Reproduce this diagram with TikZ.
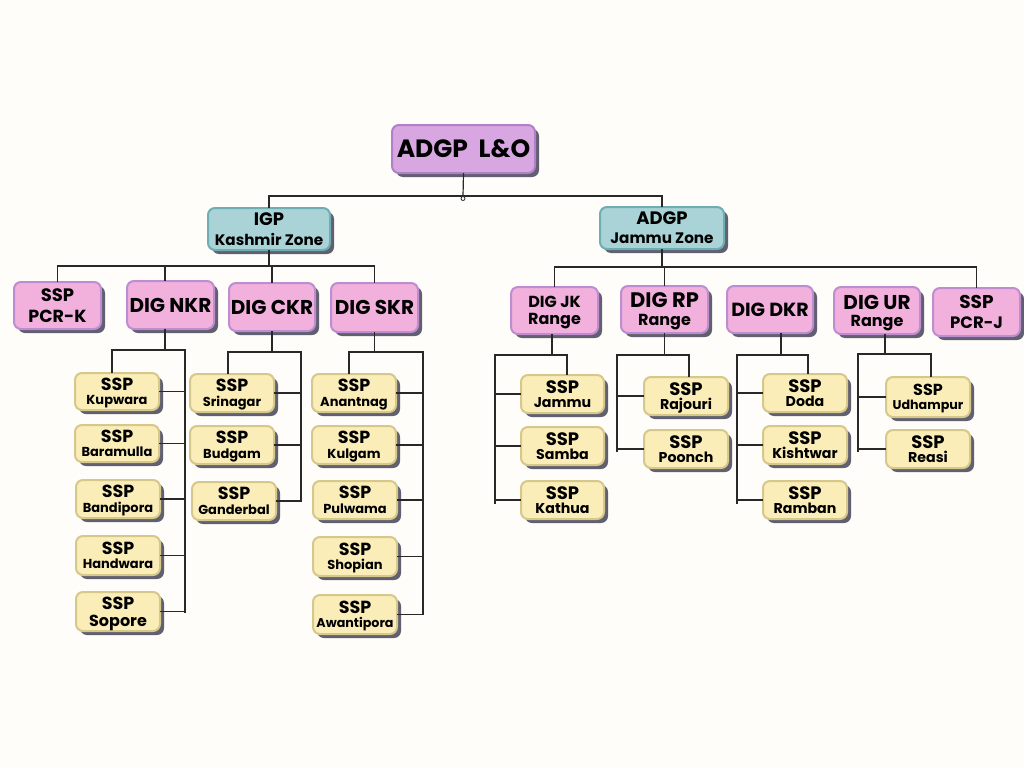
\documentclass[tikz,border=0pt]{standalone}
\usepackage{fontspec}
\setmainfont{Poppins}
\usetikzlibrary{shadows}
\definecolor{bg}{RGB}{254,253,249}
\definecolor{topfill}{RGB}{216,167,226}
\definecolor{topline}{RGB}{178,128,200}
\definecolor{tealfill}{RGB}{169,211,214}
\definecolor{tealline}{RGB}{110,174,178}
\definecolor{pinkfill}{RGB}{242,177,221}
\definecolor{pinkline}{RGB}{190,140,208}
\definecolor{yelfill}{RGB}{250,237,184}
\definecolor{yelline}{RGB}{214,200,138}
\definecolor{shad}{RGB}{96,96,112}
\definecolor{wire}{RGB}{40,40,40}
\tikzset{
  basebox/.style={rounded corners=7pt, line width=2pt, inner sep=0pt, outer sep=0pt,
     font=\bfseries, text=black,
     drop shadow={shadow xshift=4pt, shadow yshift=-4pt, fill=shad, opacity=1}},
  topbox/.style={basebox, fill=topfill, draw=topline},
  zonebox/.style={basebox, fill=tealfill, draw=tealline},
  digbox/.style={basebox, fill=pinkfill, draw=pinkline},
  sspbox/.style={basebox, fill=yelfill, draw=yelline},
  wires/.style={draw=wire, line width=1.2pt}
}
\newcommand\mkbox[7]{\node[#6, minimum width={(#4-#2)*1pt}, minimum height={(#5-#3)*1pt}] (#1) at ({(#2+#4)/2},{(#3+#5)/2}) {#7};}
\newcommand\fs[1]{\fontsize{#1}{#1}\selectfont}
% two-line text: size1, line1, size2, line2, baseline skip
\newcommand\two[5]{\vbox{\baselineskip=#5pt\lineskiplimit=-20pt\halign{\hfil##\hfil\cr\fs{#1}#2\cr\fs{#3}#4\cr}\vskip-\prevdepth}}
\newcommand\one[2]{\vbox{\hbox{\fs{#1}#2}\vskip-\prevdepth}}
\newcommand\ssp[2]{\two{17.5}{SSP}{13}{#2}{14.5}}
\newcommand\sspr[2]{\two{18}{SSP}{#1}{#2}{14.5}}
\begin{document}
\begin{tikzpicture}[x=1pt,y=-1pt]
\fill[bg] (0,0) rectangle (1024,768);
\useasboundingbox (0,0) rectangle (1024,768);

% top levels
\mkbox{top}{392}{125}{535}{173}{topbox}{\one{25}{ADGP~~L\&O}}
\mkbox{igp}{208}{208}{330}{250}{zonebox}{\two{18}{IGP}{15.2}{Kashmir Zone}{20}}
\mkbox{jz}{600}{207}{724}{249}{zonebox}{\two{18}{ADGP}{15.2}{Jammu Zone}{19}}

% Kashmir row
\mkbox{pcrk}{14}{282}{101}{329}{digbox}{\two{18}{SSP}{17.5}{PCR-K}{21}}
\mkbox{nkr}{127}{281}{214}{329}{digbox}{\one{20}{DIG NKR}}
\mkbox{ckr}{229}{283}{315}{331}{digbox}{\one{20}{DIG CKR}}
\mkbox{skr}{331}{283}{418}{332}{digbox}{\one{20}{DIG SKR}}

% Jammu row
\mkbox{jk}{511}{287}{598}{334}{digbox}{\two{16}{DIG JK}{16}{Range}{17}}
\mkbox{rp}{621}{286}{708}{333}{digbox}{\two{21}{DIG RP}{16}{Range}{18}}
\mkbox{dkr}{727}{286}{813}{333}{digbox}{\one{19}{DIG DKR}}
\mkbox{ur}{834}{287}{920}{334}{digbox}{\two{20}{DIG UR}{16}{Range}{17}}
\mkbox{pcrj}{933}{288}{1020}{336}{digbox}{\two{18.5}{SSP}{16.5}{PCR-J}{20}}

% NKR districts
\mkbox{kup}{75}{373}{159}{410}{sspbox}{\ssp{13}{Kupwara}}
\mkbox{bar}{75}{425}{159}{462}{sspbox}{\ssp{13}{Baramulla}}
\mkbox{ban}{76}{480}{160}{518}{sspbox}{\ssp{13}{Bandipora}}
\mkbox{han}{76}{536}{160}{575}{sspbox}{\ssp{13}{Handwara}}
\mkbox{sop}{76}{592}{160}{631}{sspbox}{\two{17.5}{SSP}{16}{Sopore}{17}}
% CKR districts
\mkbox{sri}{190}{374}{274}{412}{sspbox}{\ssp{13}{Srinagar}}
\mkbox{bud}{190}{426}{274}{464}{sspbox}{\ssp{13}{Budgam}}
\mkbox{gan}{192}{482}{276}{520}{sspbox}{\ssp{13}{Ganderbal}}
% SKR districts
\mkbox{ana}{312}{374}{396}{412}{sspbox}{\ssp{13}{Anantnag}}
\mkbox{kul}{312}{426}{396}{464}{sspbox}{\ssp{13}{Kulgam}}
\mkbox{pul}{313}{481}{397}{519}{sspbox}{\ssp{13}{Pulwama}}
\mkbox{sho}{313}{537}{397}{576}{sspbox}{\ssp{13}{Shopian}}
\mkbox{awa}{313}{595}{397}{634}{sspbox}{\two{17.5}{SSP}{12.7}{Awantipora}{14}}
% JK districts
\mkbox{jam}{521}{375}{604}{413}{sspbox}{\sspr{14.2}{Jammu}}
\mkbox{sam}{521}{427}{604}{465}{sspbox}{\sspr{14.2}{Samba}}
\mkbox{kat}{521}{481}{604}{519}{sspbox}{\sspr{14.2}{Kathua}}
% RP districts
\mkbox{raj}{644}{377}{728}{415}{sspbox}{\sspr{14.2}{Rajouri}}
\mkbox{poo}{644}{430}{728}{468}{sspbox}{\sspr{14.2}{Poonch}}
% DKR districts
\mkbox{dod}{763}{374}{847}{412}{sspbox}{\sspr{14.2}{Doda}}
\mkbox{kis}{763}{426}{847}{464}{sspbox}{\sspr{14.2}{Kishtwar}}
\mkbox{ram}{763}{481}{847}{519}{sspbox}{\sspr{14.2}{Ramban}}
% UR districts
\mkbox{udh}{886}{377}{970}{417}{sspbox}{\two{16}{SSP}{12.7}{Udhampur}{14}}
\mkbox{rea}{886}{430}{970}{468}{sspbox}{\sspr{14.2}{Reasi}}

% ---- connectors ----
\begin{scope}[wires]
% top
\coordinate (t0) at (463,196);
\draw (top.south) -- (t0);
\draw (igp.north) -- (igp.north |- t0) -- (jz.north |- t0) -- (jz.north);
\draw[fill=white, line width=0.8pt] (463,198.5) circle (2pt);
% Kashmir row
\coordinate (k0) at (271,266);
\draw (igp.south) -- (igp.south |- k0);
\draw (pcrk.north) -- (pcrk.north |- k0) -- (skr.north |- k0) -- (skr.north);
\draw (165,266) -- (nkr.north -| 165,0);
\draw (ckr.north |- k0) -- (ckr.north);
% Jammu row
\coordinate (j0) at (660,267);
\draw (jz.south) -- (jz.south |- j0);
\draw (jk.north) -- (jk.north |- j0) -- (pcrj.north |- j0) -- (pcrj.north);
\draw (rp.north |- j0) -- (rp.north);
% NKR
\coordinate (nkrail) at (185,350);
\draw (nkr.south -| 165,0) -- (165,350);
\draw (kup.north -| 112,0) -- (112,350) -- (nkrail) -- (185,613);
\foreach \n in {kup,bar,ban,han,sop} \draw (\n.east) -- (\n.east -| nkrail);
% CKR
\coordinate (ckrail) at (301,352);
\draw (ckr.south) -- (ckr.south |- ckrail);
\draw (sri.north -| 228,0) -- (228,352) -- (ckrail) -- (301,502);
\foreach \n in {sri,bud,gan} \draw (\n.east) -- (\n.east -| ckrail);
% SKR
\coordinate (skrail) at (423,352);
\draw (skr.south) -- (skr.south |- skrail);
\draw (ana.north -| 349,0) -- (349,352) -- (skrail) -- (423,615);
\foreach \n in {ana,kul,pul,sho,awa} \draw (\n.east) -- (\n.east -| skrail);
% JK
\coordinate (jkrail) at (495,355);
\draw (jk.south -| 552,0) -- (552,355);
\draw (jam.north -| 567,0) -- (567,355) -- (jkrail) -- (495,504);
\foreach \n in {jam,sam,kat} \draw (\n.west) -- (\n.west -| jkrail);
% RP
\coordinate (rprail) at (617,355);
\draw (rp.south) -- (rp.south |- rprail);
\draw (raj.north -| 689,0) -- (689,355) -- (rprail) -- (617,452);
\foreach \n in {raj,poo} \draw (\n.west) -- (\n.west -| rprail);
% DKR
\coordinate (dkrail) at (737,355);
\draw (dkr.south -| 781,0) -- (781,355);
\draw (dod.north -| 808,0) -- (808,355) -- (dkrail) -- (737,504);
\foreach \n in {dod,kis,ram} \draw (\n.west) -- (\n.west -| dkrail);
% UR
\coordinate (urrail) at (858,354);
\draw (ur.south -| 885,0) -- (885,354);
\draw (udh.north -| 931,0) -- (931,354) -- (urrail) -- (858,452);
\foreach \n in {udh,rea} \draw (\n.west) -- (\n.west -| urrail);
\end{scope}
\end{tikzpicture}
\end{document}
